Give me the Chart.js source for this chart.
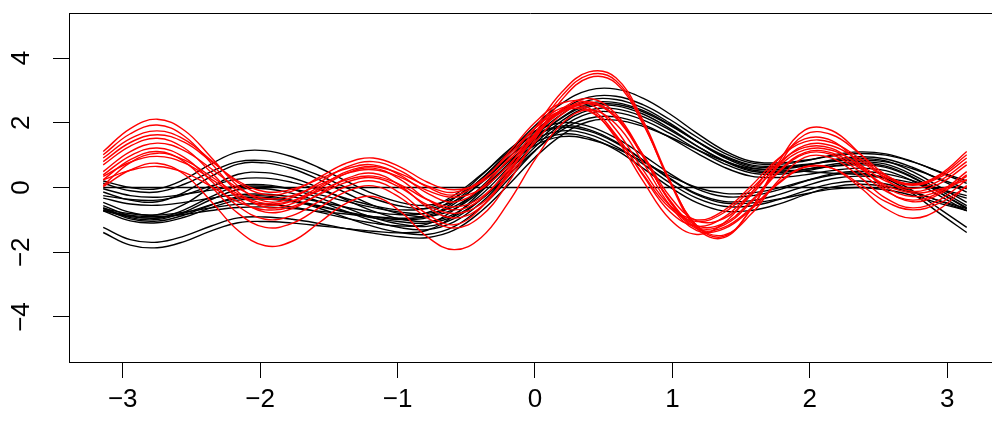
<!DOCTYPE html>
<html>
<head>
<meta charset="utf-8">
<script src="https://cdn.jsdelivr.net/npm/chart.js@4.4.0/dist/chart.umd.min.js"></script>
<style>
  html, body { margin: 0; padding: 0; background: #fff; }
  canvas { display: block; }
</style>
</head>
<body>
<canvas id="curvas" width="992" height="422"></canvas>
<script>
// valores de t entre -pi y pi
const tValues = [-3.142, -2.945, -2.749, -2.553, -2.356, -2.160, -1.963, -1.767, -1.571, -1.374, -1.178,
  -0.982, -0.785, -0.589, -0.393, -0.196, 0, 0.196, 0.393, 0.589, 0.785, 0.982, 1.178, 1.374, 1.571,
  1.767, 1.963, 2.160, 2.356, 2.553, 2.749, 2.945, 3.142];

const xTicks = [-3, -2, -1, 0, 1, 2, 3];
const yTicks = [-4, -2, 0, 2, 4];

const zeroLine = [0, 0, 0, 0, 0, 0, 0, 0, 0, 0, 0, 0, 0, 0, 0, 0, 0, 0, 0, 0, 0, 0, 0, 0, 0, 0, 0, 0, 0, 0, 0, 0, 0];

// curvas rojas
const red1 = [1.11, 1.82, 2.11, 1.77, 0.93, 0.04, -0.43, -0.31, 0.15, 0.63, 0.80, 0.52, 0.02, -0.23, 0.19, 1.06, 2.01, 2.61, 2.60, 1.79, 0.55, -0.56, -1.00, -0.71, 0.04, 0.88, 1.41, 1.39, 0.92, 0.36, 0.11, 0.40, 1.11];
const red2 = [1.01, 1.66, 1.93, 1.59, 0.75, -0.14, -0.61, -0.50, -0.04, 0.43, 0.60, 0.25, -0.37, -0.69, -0.36, 0.59, 1.82, 2.95, 3.57, 3.39, 2.08, 0.22, -1.20, -1.51, -0.68, 0.65, 1.63, 1.63, 1.07, 0.39, 0.09, 0.36, 1.01];
const red3 = [0.91, 1.51, 1.75, 1.49, 0.84, 0.15, -0.22, -0.11, 0.31, 0.75, 0.91, 0.64, 0.17, -0.07, 0.16, 0.82, 1.65, 2.33, 2.60, 2.17, 1.02, -0.28, -1.03, -0.96, -0.25, 0.68, 1.30, 1.29, 0.85, 0.31, 0.07, 0.31, 0.91];
const red4 = [0.80, 1.39, 1.63, 1.40, 0.81, 0.20, -0.13, -0.05, 0.26, 0.58, 0.70, 0.38, -0.17, -0.45, -0.02, 0.87, 1.84, 2.46, 2.45, 1.63, 0.38, -0.75, -1.20, -0.92, -0.18, 0.64, 1.16, 1.15, 0.72, 0.20, -0.03, 0.21, 0.80];
const red5 = [0.70, 1.28, 1.52, 1.22, 0.46, -0.34, -0.76, -0.65, -0.20, 0.27, 0.44, 0.06, -0.60, -0.94, -0.60, 0.39, 1.67, 2.83, 3.48, 3.30, 2.00, 0.16, -1.26, -1.55, -0.67, 0.74, 1.77, 1.76, 1.08, 0.25, -0.12, 0.12, 0.70];
const red6 = [0.49, 1.11, 1.37, 1.14, 0.58, -0.02, -0.34, -0.25, 0.08, 0.43, 0.55, 0.32, -0.09, -0.30, -0.05, 0.68, 1.60, 2.36, 2.65, 2.19, 0.97, -0.42, -1.23, -1.16, -0.47, 0.44, 1.04, 1.02, 0.51, -0.11, -0.39, -0.14, 0.49];
const red7 = [0.39, 0.98, 1.22, 0.93, 0.20, -0.58, -0.98, -0.87, -0.43, 0.03, 0.20, -0.17, -0.82, -1.15, -0.63, 0.45, 1.64, 2.39, 2.39, 1.53, 0.21, -0.98, -1.45, -1.10, -0.18, 0.85, 1.50, 1.45, 0.76, -0.07, -0.44, -0.20, 0.39];
const red8 = [0.24, 0.86, 1.11, 0.80, 0.02, -0.80, -1.23, -1.11, -0.63, -0.13, 0.05, -0.31, -0.93, -1.25, -0.89, 0.14, 1.49, 2.71, 3.39, 3.22, 1.97, 0.19, -1.17, -1.47, -0.83, 0.19, 0.93, 0.91, 0.35, -0.33, -0.63, -0.38, 0.24];
const red9 = [0.06, 0.77, 1.06, 0.85, 0.34, -0.20, -0.49, -0.41, -0.10, 0.23, 0.35, 0.09, -0.37, -0.60, -0.31, 0.52, 1.55, 2.42, 2.75, 2.27, 1.00, -0.44, -1.28, -1.23, -0.64, 0.13, 0.64, 0.60, 0.04, -0.65, -0.95, -0.66, 0.06];
const red10 = [0.34, 0.78, 0.96, 0.76, 0.26, -0.26, -0.54, -0.42, 0.02, 0.48, 0.65, 0.43, 0.05, -0.15, 0.22, 0.99, 1.83, 2.37, 2.36, 1.59, 0.42, -0.63, -1.05, -0.78, -0.06, 0.74, 1.24, 1.21, 0.67, 0.01, -0.28, -0.10, 0.34];
const red11 = [0.03, 0.54, 0.75, 0.41, -0.43, -1.33, -1.80, -1.66, -1.09, -0.49, -0.28, -0.73, -1.52, -1.92, -1.55, -0.48, 0.86, 1.97, 2.40, 1.96, 0.78, -0.55, -1.33, -1.28, -0.68, 0.10, 0.62, 0.60, 0.13, -0.44, -0.69, -0.48, 0.03];
const red12 = [0.24, 0.53, 0.65, 0.47, 0.03, -0.44, -0.69, -0.59, -0.22, 0.16, 0.30, 0.00, -0.53, -0.80, -0.51, 0.33, 1.39, 2.26, 2.60, 2.15, 0.96, -0.39, -1.18, -1.11, -0.42, 0.48, 1.08, 1.07, 0.62, 0.07, -0.17, -0.05, 0.24];

// curvas negras
const black1 = [0.20, 0.00, -0.04, 0.25, 0.73, 1.10, 1.14, 0.95, 0.61, 0.20, -0.19, -0.46, -0.55, -0.32, 0.25, 1.06, 1.91, 2.60, 3.01, 3.04, 2.76, 2.27, 1.68, 1.15, 0.81, 0.76, 0.84, 0.97, 1.05, 1.00, 0.79, 0.49, 0.20];
const black2 = [0.13, -0.10, -0.14, 0.10, 0.49, 0.80, 0.83, 0.67, 0.37, 0.00, -0.34, -0.57, -0.65, -0.43, 0.13, 0.91, 1.73, 2.39, 2.79, 2.82, 2.56, 2.10, 1.56, 1.07, 0.76, 0.71, 0.82, 1.00, 1.10, 1.04, 0.80, 0.47, 0.13];
const black3 = [-0.14, -0.39, -0.44, -0.15, 0.34, 0.72, 0.76, 0.58, 0.24, -0.17, -0.55, -0.81, -0.90, -0.67, -0.09, 0.72, 1.58, 2.27, 2.69, 2.72, 2.46, 1.99, 1.43, 0.93, 0.61, 0.56, 0.67, 0.85, 0.95, 0.88, 0.62, 0.24, -0.14];
const black4 = [-0.46, -0.77, -0.84, -0.52, 0.01, 0.41, 0.46, 0.30, -0.01, -0.38, -0.73, -0.97, -1.05, -0.82, -0.23, 0.60, 1.46, 2.17, 2.59, 2.62, 2.38, 1.94, 1.42, 0.96, 0.66, 0.61, 0.69, 0.82, 0.90, 0.82, 0.49, 0.02, -0.46];
const black5 = [-0.56, -0.87, -0.94, -0.69, -0.28, 0.05, 0.08, -0.06, -0.32, -0.63, -0.93, -1.13, -1.20, -0.96, -0.37, 0.47, 1.35, 2.06, 2.49, 2.52, 2.27, 1.82, 1.29, 0.82, 0.51, 0.46, 0.56, 0.71, 0.80, 0.72, 0.39, -0.08, -0.56];
const black6 = [-0.62, -0.93, -0.99, -0.76, -0.37, -0.07, -0.04, -0.18, -0.43, -0.74, -1.03, -1.24, -1.30, -1.06, -0.47, 0.37, 1.25, 1.96, 2.39, 2.43, 2.19, 1.77, 1.28, 0.84, 0.55, 0.50, 0.56, 0.65, 0.70, 0.62, 0.30, -0.16, -0.62];
const black7 = [-0.65, -0.97, -1.04, -0.85, -0.54, -0.29, -0.26, -0.40, -0.64, -0.93, -1.20, -1.39, -1.45, -1.21, -0.61, 0.24, 1.13, 1.85, 2.29, 2.32, 2.09, 1.67, 1.18, 0.74, 0.45, 0.41, 0.51, 0.66, 0.75, 0.66, 0.32, -0.16, -0.65];
const black8 = [-0.72, -1.03, -1.09, -0.92, -0.62, -0.39, -0.36, -0.44, -0.59, -0.77, -0.94, -1.06, -1.10, -0.89, -0.37, 0.37, 1.14, 1.77, 2.14, 2.18, 1.95, 1.54, 1.06, 0.63, 0.35, 0.31, 0.39, 0.52, 0.60, 0.52, 0.20, -0.26, -0.72];
const black9 = [-1.23, -1.61, -1.69, -1.50, -1.19, -0.94, -0.91, -0.98, -1.11, -1.27, -1.41, -1.52, -1.55, -1.32, -0.74, 0.07, 0.93, 1.62, 2.04, 2.08, 1.89, 1.56, 1.17, 0.82, 0.59, 0.55, 0.50, 0.44, 0.40, 0.30, -0.10, -0.66, -1.23];
const black10 = [-0.04, -0.25, -0.30, -0.21, -0.08, 0.03, 0.04, -0.05, -0.22, -0.43, -0.62, -0.76, -0.80, -0.59, -0.05, 0.71, 1.51, 2.15, 2.54, 2.57, 2.34, 1.92, 1.43, 0.99, 0.70, 0.65, 0.71, 0.80, 0.85, 0.79, 0.58, 0.27, -0.04];
const black11 = [-0.33, -0.51, -0.55, -0.46, -0.33, -0.22, -0.21, -0.29, -0.44, -0.61, -0.76, -0.84, -0.78, -0.34, 0.36, 1.14, 1.74, 2.00, 1.89, 1.53, 1.00, 0.43, -0.04, -0.28, -0.26, -0.08, 0.19, 0.42, 0.50, 0.42, 0.21, -0.07, -0.33];
const black12 = [-0.25, -0.37, -0.39, -0.23, 0.05, 0.26, 0.29, 0.16, -0.07, -0.34, -0.56, -0.69, -0.63, -0.24, 0.39, 1.08, 1.62, 1.85, 1.74, 1.38, 0.85, 0.28, -0.19, -0.43, -0.41, -0.23, 0.04, 0.27, 0.35, 0.29, 0.14, -0.05, -0.25];
const black13 = [-0.71, -0.90, -0.94, -0.79, -0.53, -0.33, -0.31, -0.40, -0.56, -0.75, -0.90, -0.99, -0.93, -0.51, 0.17, 0.92, 1.50, 1.75, 1.64, 1.27, 0.73, 0.14, -0.33, -0.58, -0.57, -0.38, -0.11, 0.12, 0.20, 0.11, -0.12, -0.42, -0.71];
const black14 = [-0.65, -0.81, -0.85, -0.76, -0.63, -0.52, -0.51, -0.60, -0.76, -0.95, -1.10, -1.19, -1.13, -0.69, 0.01, 0.79, 1.39, 1.65, 1.54, 1.16, 0.60, 0.01, -0.47, -0.73, -0.71, -0.52, -0.23, 0.01, 0.10, 0.03, -0.16, -0.41, -0.65];
const black15 = [-1.39, -1.78, -1.86, -1.67, -1.34, -1.09, -1.05, -1.10, -1.18, -1.27, -1.35, -1.40, -1.32, -0.87, -0.13, 0.67, 1.30, 1.57, 1.49, 1.21, 0.80, 0.36, 0.00, -0.18, -0.17, -0.02, 0.20, 0.38, 0.45, 0.27, -0.19, -0.80, -1.39];
const black16 = [-0.71, -0.86, -0.90, -0.83, -0.71, -0.62, -0.60, -0.65, -0.73, -0.82, -0.90, -0.95, -0.88, -0.44, 0.26, 1.04, 1.64, 1.90, 1.79, 1.41, 0.85, 0.26, -0.22, -0.48, -0.48, -0.36, -0.20, -0.05, 0.00, -0.07, -0.25, -0.49, -0.71];

const redSeries = [red1, red2, red3, red4, red5, red6, red7, red8, red9, red10, red11, red12];
const blackSeries = [black1, black2, black3, black4, black5, black6, black7, black8,
  black9, black10, black11, black12, black13, black14, black15, black16];

const fuente = '"Liberation Sans", Arial, Helvetica, sans-serif';

function aPuntos(vals) {
  return vals.map((v, i) => ({ x: tValues[i], y: v }));
}

// signo menos tipografico como en los ejes de R
function conMenos(v) {
  return String(v).replace('-', '\u2212');
}

function curva(vals, color) {
  return {
    data: aPuntos(vals),
    borderColor: color,
    borderWidth: 1.4,
    pointRadius: 0,
    fill: false,
    tension: 0.4
  };
}

const datasets = [];
redSeries.forEach(s => datasets.push(curva(s, '#ff0000')));
blackSeries.forEach(s => datasets.push(curva(s, '#000000')));
datasets.push(curva(zeroLine, '#000000'));

// linea superior del marco y etiquetas verticales del eje y
const marco = {
  id: 'marco',
  afterDraw(chart) {
    const ctx = chart.ctx;
    const area = chart.chartArea;
    const ejeY = chart.scales.y;
    ctx.save();
    ctx.strokeStyle = '#000';
    ctx.lineWidth = 1;
    ctx.beginPath();
    ctx.moveTo(area.left, Math.round(area.top) + 0.5);
    ctx.lineTo(area.right, Math.round(area.top) + 0.5);
    ctx.stroke();

    ctx.fillStyle = '#000';
    ctx.font = '26px ' + fuente;
    ctx.textAlign = 'center';
    ctx.textBaseline = 'middle';
    yTicks.forEach(v => {
      ctx.save();
      ctx.translate(22, ejeY.getPixelForValue(v));
      ctx.rotate(-Math.PI / 2);
      ctx.fillText(conMenos(v), 0, 0);
      ctx.restore();
    });
    ctx.restore();
  }
};

new Chart(document.getElementById('curvas'), {
  type: 'line',
  data: { datasets },
  options: {
    responsive: false,
    animation: false,
    devicePixelRatio: 1,
    layout: { padding: { top: 13, right: 0, bottom: 0, left: 0 } },
    plugins: {
      legend: { display: false },
      tooltip: { enabled: false }
    },
    scales: {
      x: {
        type: 'linear',
        min: -3.391,
        max: 3.326,
        afterFit: s => { s.height = 60; },
        afterBuildTicks: s => { s.ticks = xTicks.map(v => ({ value: v })); },
        grid: { drawOnChartArea: false, drawTicks: true, tickLength: 16, color: '#000', lineWidth: 1 },
        border: { display: true, color: '#000', width: 1 },
        ticks: {
          color: '#000',
          font: { family: fuente, size: 26 },
          padding: 6,
          maxRotation: 0,
          minRotation: 0,
          callback: v => conMenos(v)
        }
      },
      y: {
        type: 'linear',
        min: -5.39,
        max: 5.39,
        afterFit: s => { s.width = 69; },
        afterBuildTicks: s => { s.ticks = yTicks.map(v => ({ value: v })); },
        grid: { drawOnChartArea: false, drawTicks: true, tickLength: 16, color: '#000', lineWidth: 1 },
        border: { display: true, color: '#000', width: 1 },
        ticks: { display: false }
      }
    }
  },
  plugins: [marco]
});
</script>
</body>
</html>
